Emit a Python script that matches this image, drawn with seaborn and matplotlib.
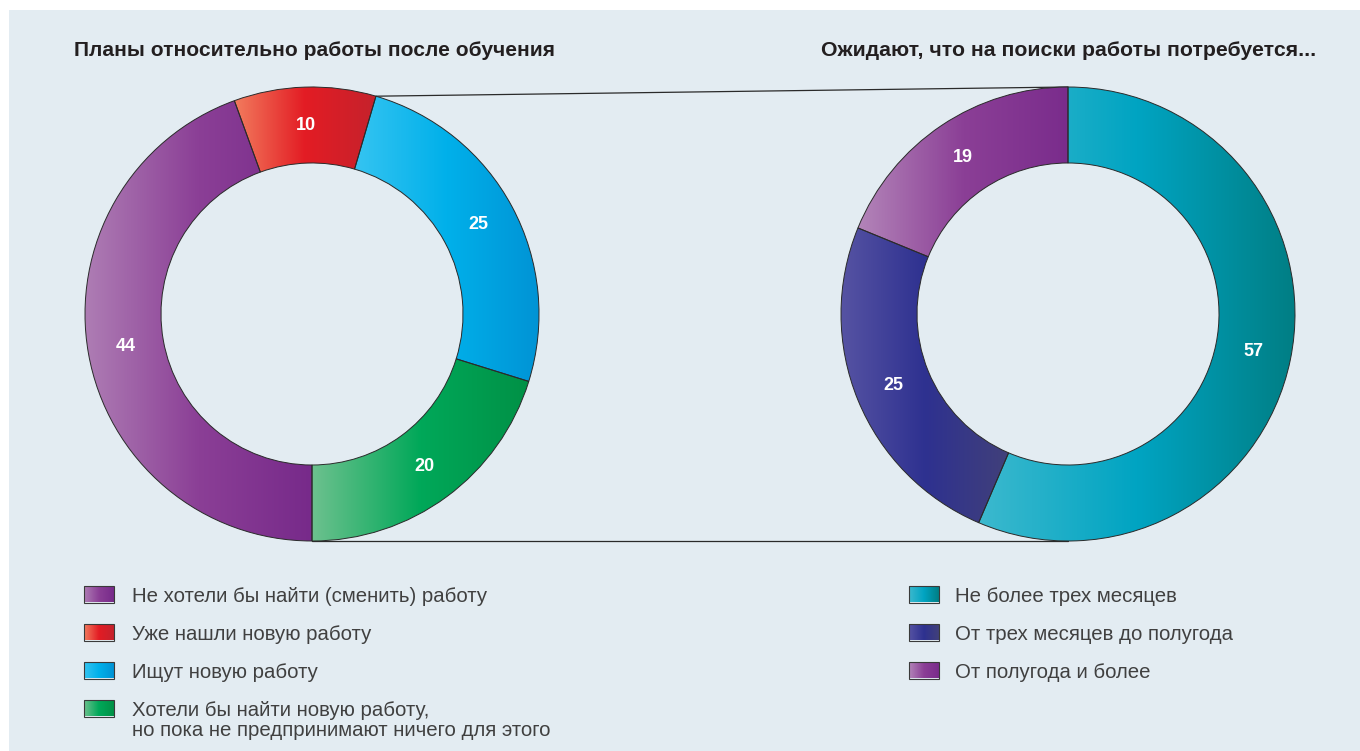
import numpy as np
import matplotlib
matplotlib.use("Agg")
import matplotlib.pyplot as plt
from matplotlib.patches import Rectangle
import seaborn as sns

# ---- data ---------------------------------------------------------------
left_title = "Планы относительно работы после обучения"
left_labels = [
    "Не хотели бы найти (сменить) работу",
    "Уже нашли новую работу",
    "Ищут новую работу",
    "Хотели бы найти новую работу,\nно пока не предпринимают ничего для этого",
]
left_values = [44, 10, 25, 20]

right_title = "Ожидают, что на поиски работы потребуется..."
right_labels = [
    "Не более трех месяцев",
    "От трех месяцев до полугода",
    "От полугода и более",
]
right_values = [57, 25, 19]

# gradient stops (left -> right) for every segment
left_colors = [
    ("#ae7db4", "#8b3f96", "#772a8a"),
    ("#f27c5e", "#e31c24", "#c5222c"),
    ("#35c4f1", "#00b0ea", "#0093d5"),
    ("#6dc18e", "#00a859", "#009146"),
]
right_colors = [
    ("#3cb9ce", "#00a4c2", "#007e84"),
    ("#5653a3", "#2e3190", "#41407a"),
    ("#b385b9", "#8b3f96", "#7a2c8c"),
]

# ---- style --------------------------------------------------------------
sns.set_theme(style="white")
plt.rcParams["font.family"] = ["Liberation Sans", "DejaVu Sans"]

BG = "#e3ecf2"
EDGE = "#2a2a2a"
TXT = "#404040"
W, H = 1360, 751
R_OUT, R_IN = 227, 151

fig = plt.figure(figsize=(W / 100, H / 100), dpi=100, facecolor="white")
ax = fig.add_axes([0, 0, 1, 1])
ax.add_patch(Rectangle((9, 0), W - 9, H - 10, facecolor=BG, edgecolor="none", zorder=0))


def gradient_fill(patch, stops, zorder):
    """Fill a patch with a horizontal gradient clipped to its outline."""
    cmap = sns.blend_palette(list(stops), n_colors=256, as_cmap=True)
    ext = patch.get_path().get_extents(patch.get_patch_transform())
    img = ax.imshow(np.linspace(0, 1, 256)[None, :], cmap=cmap, aspect="auto",
                    extent=(ext.x0, ext.x1, ext.y0, ext.y1), origin="lower",
                    interpolation="bilinear", zorder=zorder)
    img.set_clip_path(patch)
    return img


def donut(values, stops, center, start):
    wedges, _ = ax.pie(values, radius=R_OUT, center=center, startangle=start,
                       counterclock=False, frame=True,
                       wedgeprops=dict(width=R_OUT - R_IN, facecolor="none",
                                       edgecolor=EDGE, linewidth=0.7, zorder=3))
    for w, s, v in zip(wedges, stops, values):
        gradient_fill(w, s, 2)
        mid = np.deg2rad((w.theta1 + w.theta2) / 2)
        rr = (R_OUT + R_IN) / 2
        ax.text(center[0] + rr * np.cos(mid), center[1] + rr * np.sin(mid), str(v),
                ha="center", va="center", color="white", fontsize=13,
                fontweight="bold", zorder=4)
    return wedges


cl = (312, H - 314)
cr = (1068, H - 314)
lw = donut(left_values, left_colors, cl, -90)
rw = donut(right_values, right_colors, cr, 90)
ax.set_xlim(0, W)
ax.set_ylim(0, H)
ax.set_aspect("equal")
ax.axis("off")

# connector lines between the two rings
a_top = np.deg2rad(lw[1].theta1)
ax.plot([cl[0] + R_OUT * np.cos(a_top), cr[0]],
        [cl[1] + R_OUT * np.sin(a_top), cr[1] + R_OUT],
        color=EDGE, lw=0.9, zorder=1)
ax.plot([cl[0], cr[0]], [cl[1] - R_OUT, cr[1] - R_OUT], color=EDGE, lw=0.9, zorder=1)

# titles
ax.text(74, H - 56, left_title, ha="left", va="baseline", fontsize=15.1,
        fontweight="bold", color="#231f20")
ax.text(1316, H - 56, right_title, ha="right", va="baseline", fontsize=15.3,
        fontweight="bold", color="#231f20")


def legend(x_box, x_text, labels, stops, y0, step=38):
    y = y0
    for lab, s in zip(labels, stops):
        box = Rectangle((x_box, H - y - 8.5), 30, 17, facecolor="none",
                        edgecolor="#3a3a3a", linewidth=0.8, zorder=3)
        ax.add_patch(box)
        gradient_fill(box, s, 2)
        for k, line in enumerate(lab.split("\n")):
            ax.text(x_text, H - y - 21 * k, line, ha="left", va="center_baseline",
                    fontsize=14.7, color=TXT)
        y += step


legend(84, 132, left_labels, left_colors, 594)
legend(909, 955, right_labels, right_colors, 594)

fig.savefig("out.png", dpi=100, facecolor="white")
